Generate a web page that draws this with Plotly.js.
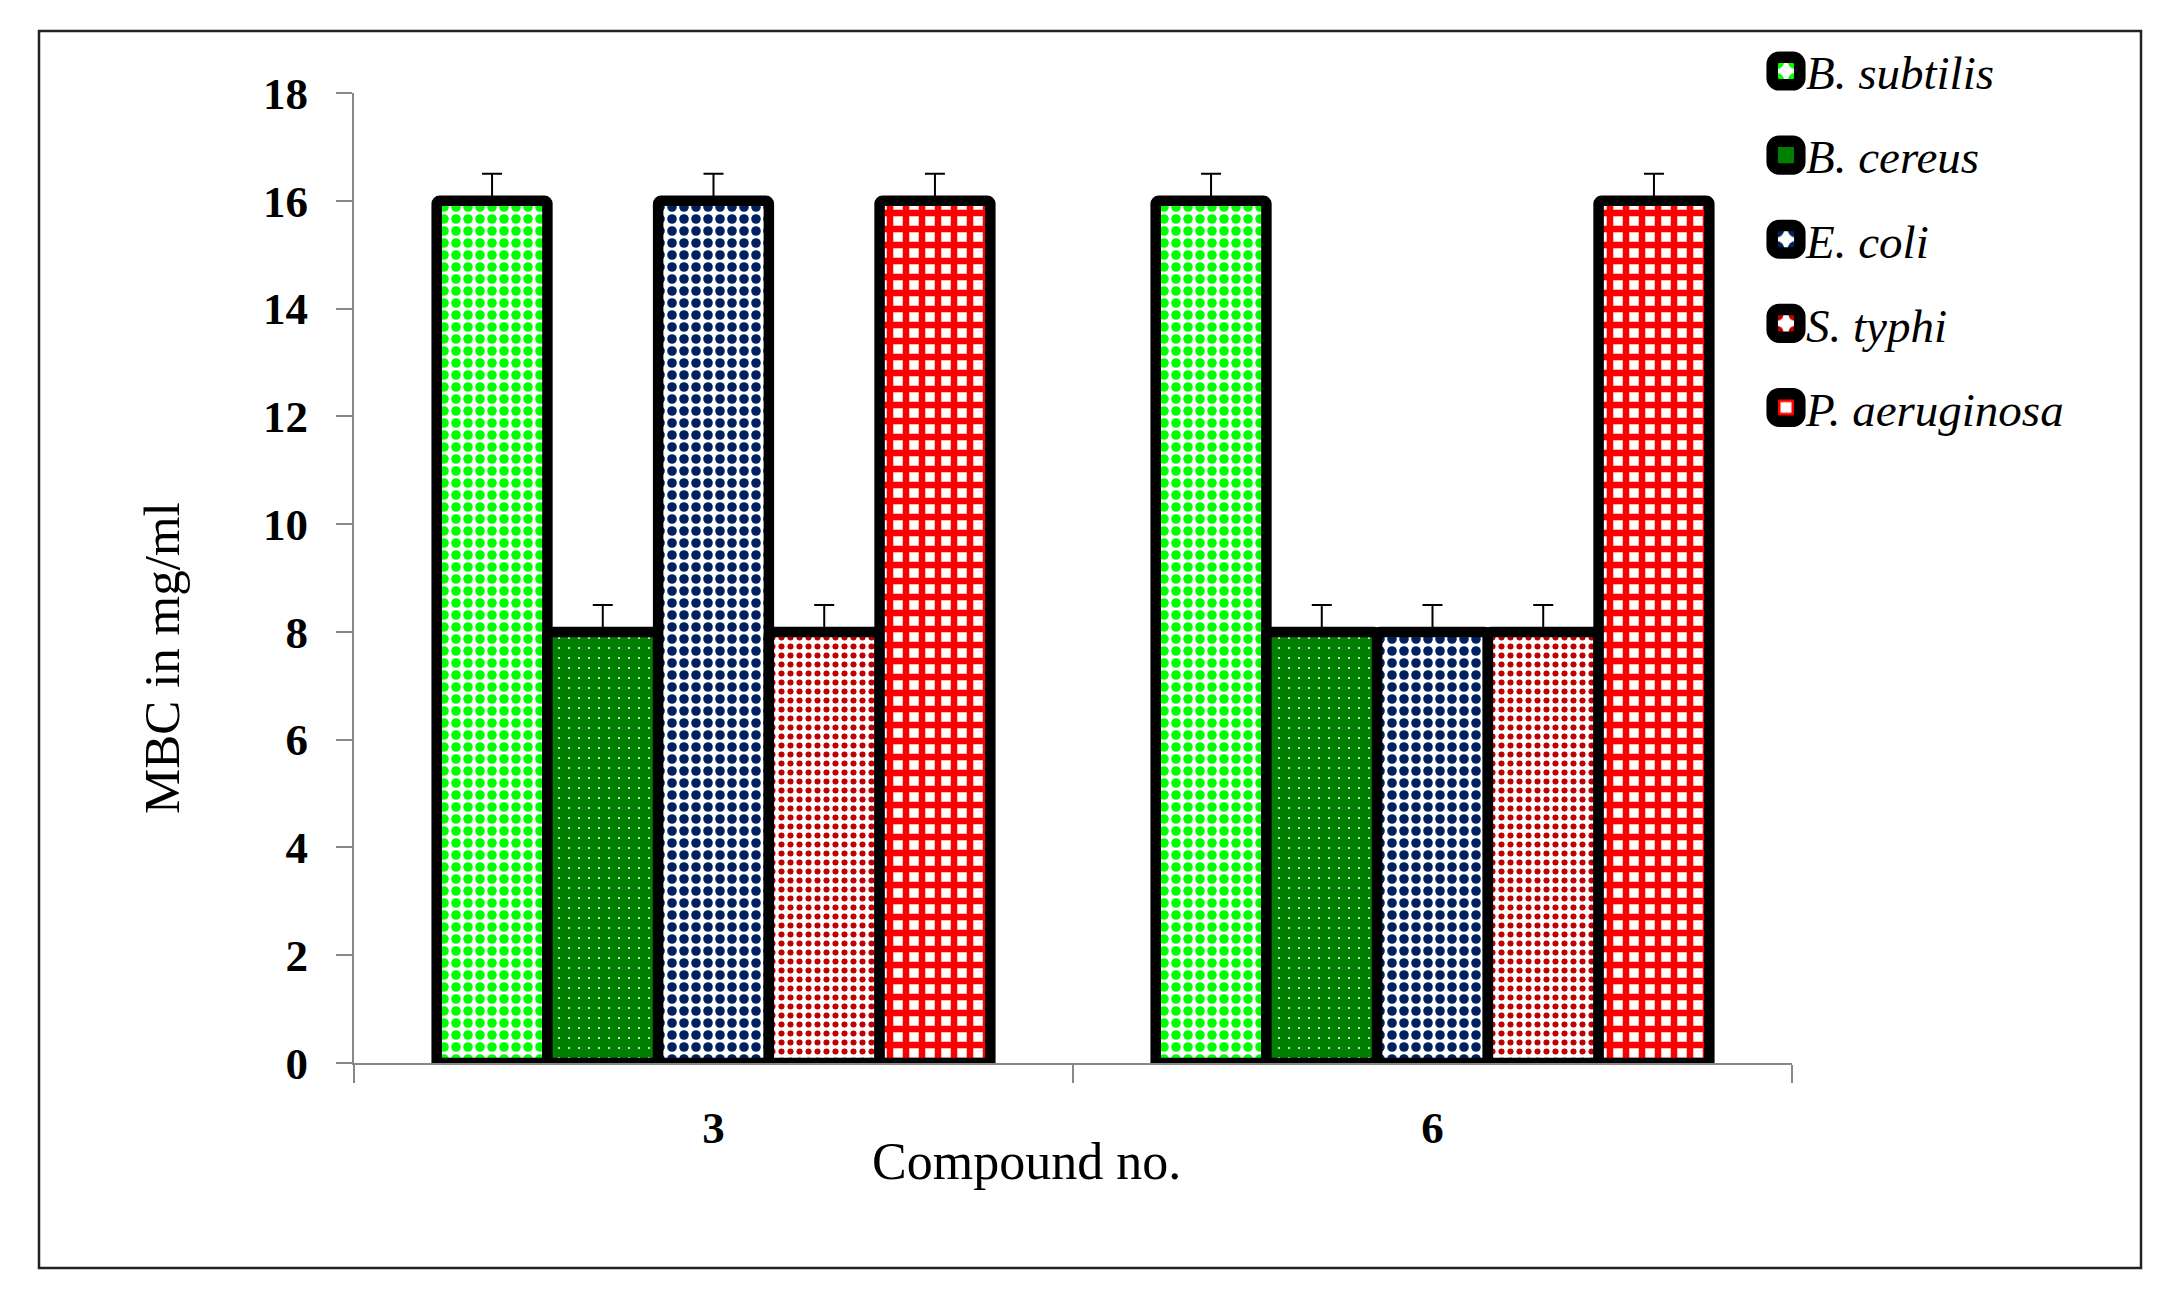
<!DOCTYPE html>
<html>
<head>
<meta charset="utf-8">
<script src="https://cdn.plot.ly/plotly-3.0.1.min.js"></script>
<style>
  html, body { margin: 0; padding: 0; background: #fff; }
  #chart { width: 2178px; height: 1296px; }
</style>
</head>
<body>
<div id="chart"></div>
<script>
// ---- data ----
const compounds = ["3", "6"];
const seriesNames = ["B. subtilis", "B. cereus", "E. coli", "S. typhi", "P. aeruginosa"];
const bSubtilis = [16, 16];
const bCereus = [8, 8];
const eColi = [16, 8];
const sTyphi = [8, 8];
const pAeruginosa = [16, 16];
const errUp = [0.5, 0.5];
const errDown = [0, 0];
const yTicks = [0, 2, 4, 6, 8, 10, 12, 14, 16, 18];

const seriesValues = [bSubtilis, bCereus, eColi, sTyphi, pAeruginosa];
const seriesPatterns = [
  {shape: ".", fgcolor: "#00FF00", bgcolor: "#FFFFFF", size: 12, solidity: 0.5, fillmode: "replace"},
  {shape: ".", fgcolor: "#FFFFFF", bgcolor: "#008000", size: 10, solidity: 0.03, fillmode: "replace"},
  {shape: ".", fgcolor: "#002060", bgcolor: "#FFFFFF", size: 12, solidity: 0.5, fillmode: "replace"},
  {shape: ".", fgcolor: "#C00000", bgcolor: "#FFFFFF", size: 9, solidity: 0.36, fillmode: "replace"},
  {shape: "+", fgcolor: "#FF0000", bgcolor: "#FFFFFF", size: 16, solidity: 0.65, fillmode: "replace"}
];

const serif = "'Liberation Serif', 'DejaVu Serif', serif";

const traces = seriesNames.map((name, i) => ({
  type: "bar",
  name: name,
  legendgroup: "g" + i,
  x: compounds,
  y: seriesValues[i],
  marker: {
    color: seriesPatterns[i].bgcolor,
    pattern: seriesPatterns[i],
    line: {color: "#000000", width: 10.5},
    cornerradius: 3
  },
  error_y: {
    type: "data",
    symmetric: false,
    array: errUp,
    arrayminus: errDown,
    color: "#000000",
    thickness: 2,
    width: 10
  },
  hoverinfo: "skip"
}));

// plot area in pixels: x 354..1792, y 93..1063
const W = 2178, H = 1296;
const L = 354, R = 1792, T = 93, B = 1063;
const pw = R - L, ph = B - T;
const px = v => (v - L) / pw;
const py = v => (B - v) / ph;

const layout = {
  width: W,
  height: H,
  margin: {l: L, r: W - R, t: T, b: H - B, pad: 0},
  paper_bgcolor: "#ffffff",
  plot_bgcolor: "#ffffff",
  barmode: "group",
  bargap: 0.23,
  bargroupgap: 0,
  showlegend: true,
  legend: {
    x: px(1766),
    y: py(34),
    xanchor: "left",
    yanchor: "top",
    font: {family: serif, size: 47, color: "#000", style: "italic"},
    tracegroupgap: 20,
    bgcolor: "rgba(0,0,0,0)",
    borderwidth: 0
  },
  xaxis: {
    type: "category",
    range: [-0.5, 1.5],
    showline: true,
    linecolor: "#888888",
    linewidth: 2,
    ticks: "outside",
    tickson: "boundaries",
    ticklen: 18,
    tickwidth: 2,
    tickcolor: "#888888",
    tickfont: {family: serif, size: 45, color: "#000", weight: "bold"},
    ticklabelstandoff: 24,
    showgrid: false,
    zeroline: false
  },
  yaxis: {
    range: [0, 18],
    tickvals: yTicks,
    ticktext: yTicks.map(String),
    showline: true,
    linecolor: "#888888",
    linewidth: 2,
    ticks: "outside",
    ticklen: 16,
    tickwidth: 2,
    tickcolor: "#888888",
    tickfont: {family: serif, size: 45, color: "#000", weight: "bold"},
    ticklabelstandoff: 19,
    showgrid: false,
    zeroline: false
  },
  annotations: [
    {
      text: "Compound no.",
      xref: "paper", yref: "paper",
      x: px(1026), y: py(1161),
      xanchor: "center", yanchor: "middle",
      showarrow: false,
      font: {family: serif, size: 52, color: "#000"}
    },
    {
      text: "MBC in mg/ml",
      xref: "paper", yref: "paper",
      x: px(162), y: py(658),
      xanchor: "center", yanchor: "middle",
      textangle: -90,
      showarrow: false,
      font: {family: serif, size: 51, color: "#000"}
    }
  ],
  shapes: [
    {
      type: "rect",
      xref: "paper", yref: "paper",
      x0: px(39), x1: px(2141),
      y0: py(1268), y1: py(31),
      line: {color: "#222222", width: 2.5},
      fillcolor: "rgba(0,0,0,0)",
      layer: "below"
    }
  ]
};

Plotly.newPlot("chart", traces, layout, {displayModeBar: false, staticPlot: true}).then(() => {
  document.querySelectorAll("#chart .legendpoints path").forEach(p => {
    const t = p.getAttribute("transform") || "";
    p.setAttribute("transform", t + " scale(2.3)");
  });
});
</script>
</body>
</html>
